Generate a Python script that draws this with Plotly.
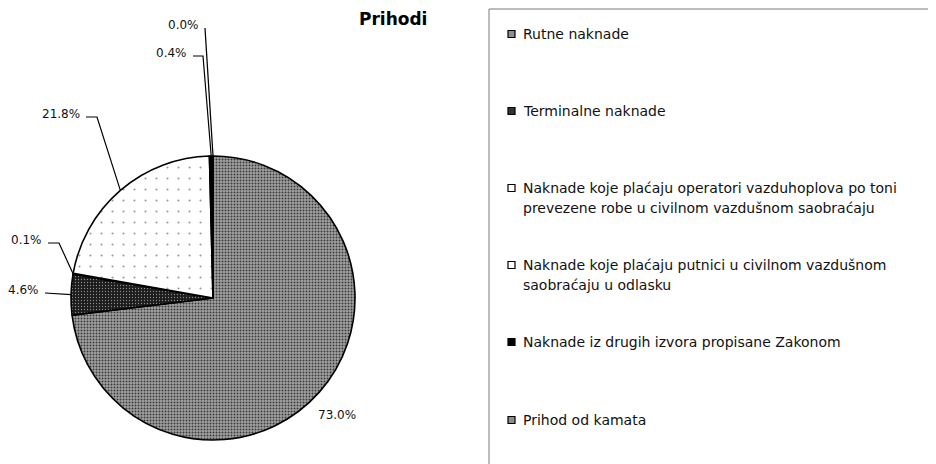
import math
import plotly.graph_objects as go

# ---------------- data ----------------
title_text = "Prihodi"
categories = [
    "Rutne naknade",
    "Terminalne naknade",
    "Naknade koje plaćaju operatori vazduhoplova po toni prevezene robe u civilnom vazdušnom saobraćaju",
    "Naknade koje plaćaju putnici u civilnom vazdušnom saobraćaju u odlasku",
    "Naknade iz drugih izvora propisane Zakonom",
    "Prihod od kamata",
]
shares = [73.0, 4.6, 0.1, 21.8, 0.4, 0.0]
value_labels = ["73.0%", "4.6%", "0.1%", "21.8%", "0.4%", "0.0%"]
legend_lines = [
    ["Rutne naknade"],
    ["Terminalne naknade"],
    ["Naknade koje plaćaju operatori vazduhoplova po toni",
     "prevezene robe u civilnom vazdušnom saobraćaju"],
    ["Naknade koje plaćaju putnici u civilnom vazdušnom",
     "saobraćaju u odlasku"],
    ["Naknade iz drugih izvora propisane Zakonom"],
    ["Prihod od kamata"],
]

# ---------------- layout / style ----------------
W, H = 936, 464
PAGE_OFF = 8          # default page body margin of the html page
CX, CY, R = 213, 298, 142
FONT = "DejaVu Sans"

bg_colors = ["#a2a2a2", "#1c1c1c", "#ffffff", "#ffffff", "#000000", "#a2a2a2"]
pat_shapes = [".", ".", "", ".", "", "."]
pat_fg = ["#3c3c3c", "#8a8a8a", "#000000", "#9a9a9a", "#000000", "#3c3c3c"]
pat_size = [3, 3, 8, 11, 8, 3]
pat_sol = [0.35, 0.15, 0.2, 0.03, 0.2, 0.35]
legend_sq = ["#8e8e8e", "#333333", "#ffffff", "#ffffff", "#000000", "#8e8e8e"]

# label anchors: (right edge x of text, leader y) in px, elbow length; None = no leader
label_anchor = [(360, 418), (43, 293), (46, 243), (84, 117), (191, 56), (203, 28)]
label_elbow = [None, 0, 11, 11, 10, 0]

legend_row_y = [34, 111, 188, 265, 342, 420]
legend_line_gap = 20
legend_text_x = 521
legend_sq_x = 508
legend_sq_size = 7


def px(x):
    return (x - PAGE_OFF) / W


def py(y):
    return 1 - (y - PAGE_OFF) / H


fig = go.Figure()
fig.add_trace(go.Pie(
    labels=categories,
    values=shares,
    sort=False,
    direction="clockwise",
    rotation=0,
    textinfo="none",
    hoverinfo="label+percent",
    showlegend=False,
    marker=dict(
        colors=bg_colors,
        line=dict(color="#000000", width=1.6),
        pattern=dict(shape=pat_shapes, fgcolor=pat_fg, bgcolor=bg_colors,
                     size=pat_size, solidity=pat_sol, fillmode="replace"),
    ),
    domain=dict(x=[px(CX - R), px(CX + R)], y=[py(CY + R), py(CY - R)]),
))

annotations = []
shapes = []

# value labels with leader lines computed from the slice angles
total = sum(shares)
cum = 0.0
for i, v in enumerate(shares):
    mid = (cum + v / 2) / total * 2 * math.pi
    cum += v
    ex = CX + R * math.sin(mid)
    ey = CY - R * math.cos(mid)
    ax_, ay_ = label_anchor[i]
    annotations.append(dict(
        x=px(ax_ - 2), y=py(ay_ - 3), xref="paper", yref="paper",
        text=value_labels[i], showarrow=False, xanchor="right", yanchor="middle",
        font=dict(family=FONT, size=12, color="#111111"),
    ))
    elbow = label_elbow[i]
    if elbow is not None:
        sx = ax_ + 2
        path = (f"M {px(sx)},{py(ay_)} L {px(sx + elbow)},{py(ay_)} "
                f"L {px(ex)},{py(ey)}")
        shapes.append(dict(type="path", xref="paper", yref="paper", path=path,
                           line=dict(color="#000000", width=1.2)))

# title
annotations.append(dict(
    x=px(393), y=py(19), xref="paper", yref="paper", text=f"<b>{title_text}</b>",
    showarrow=False, xanchor="center", yanchor="middle",
    font=dict(family=FONT, size=17, color="#000000"),
))

# legend box
shapes.append(dict(type="rect", xref="paper", yref="paper",
                   x0=px(489), x1=px(933), y0=py(490), y1=py(9),
                   line=dict(color="#7a7a7a", width=1), fillcolor="rgba(0,0,0,0)"))

for i, lines in enumerate(legend_lines):
    y0 = legend_row_y[i]
    shapes.append(dict(type="rect", xref="paper", yref="paper",
                       x0=px(legend_sq_x), x1=px(legend_sq_x + legend_sq_size),
                       y0=py(y0 + legend_sq_size / 2), y1=py(y0 - legend_sq_size / 2),
                       line=dict(color="#000000", width=1.2), fillcolor=legend_sq[i]))
    for j, t in enumerate(lines):
        annotations.append(dict(
            x=px(legend_text_x), y=py(y0 + j * legend_line_gap), xref="paper", yref="paper",
            text=t, showarrow=False, xanchor="left", yanchor="middle",
            font=dict(family=FONT, size=14, color="#111111"),
        ))

fig.update_layout(
    width=W, height=H,
    margin=dict(l=0, r=0, t=0, b=0),
    paper_bgcolor="#ffffff",
    plot_bgcolor="#ffffff",
    annotations=annotations,
    shapes=shapes,
    font=dict(family=FONT),
)

fig.write_html("out.html")
